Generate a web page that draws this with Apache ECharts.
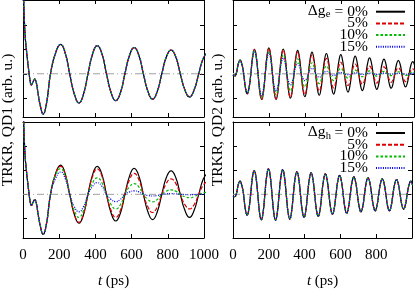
<!DOCTYPE html>
<html><head><meta charset="utf-8">
<script src="https://cdn.jsdelivr.net/npm/echarts@6/dist/echarts.min.js"></script>
<style>html,body{margin:0;padding:0;background:#fff}#c{width:415px;height:290px}</style>
</head><body><div id="c"></div>
<script>
// ---------- data ----------
const seriesNames = ['0%', '5%', '10%', '15%'];
const xTickStep = 200;
const yTicks = [-1, 0, 1, 2];

// QD1 time samples (ps)
const tQD1 = [0,4,11,19,27,34,40,46,55,65,74,83,97,111,130,152,180,208,
  233,258,284,309,334,359,385,410,
  436,461,487,512,538,563,589,614,
  640,665,691,716,741,767,792,818,
  844,869,895,920,945,971,996,1022];
// QD1, 0% (top-left all curves; bottom-left black)
const qd1_0 = [5,3.0,1.65,0.97,0.42,0,-0.33,-0.46,-0.34,-0.22,-0.38,-0.8,-1.35,-1.65,-1.2,0,0.85,1.2,
  0.85,0,-0.84,-1.19,-0.84,0,0.82,1.15,
  0.82,0,-0.78,-1.1,-0.78,0,0.76,1.07,
  0.76,0,-0.74,-1.04,-0.74,0,0.69,0.97,
  0.69,0,-0.67,-0.95,-0.67,0,0.63,0.9];
const qd1_h5 = [5,3.0,1.65,0.97,0.42,0,-0.33,-0.46,-0.34,-0.22,-0.38,-0.8,-1.35,-1.65,-1.2,0,0.84,1.15,
  0.82,0,-0.82,-1.15,-0.82,0,0.75,1.05,
  0.75,0,-0.67,-0.95,-0.67,0,0.61,0.86,
  0.61,0,-0.53,-0.75,-0.53,0,0.45,0.64,
  0.45,0,-0.43,-0.6,-0.43,0,0.38,0.55];
const qd1_h10 = [5,3.0,1.65,0.97,0.42,0,-0.33,-0.46,-0.34,-0.22,-0.38,-0.8,-1.35,-1.65,-1.2,0,0.8,1.06,
  0.75,0,-0.67,-0.95,-0.67,0,0.48,0.68,
  0.48,0,-0.43,-0.6,-0.43,0,0.31,0.44,
  0.31,0,-0.22,-0.31,-0.22,0,0.13,0.18,
  0.13,0,-0.1,-0.14,-0.1,0,0.06,0.08];
const qd1_h15 = [5,3.0,1.65,0.97,0.42,0,-0.33,-0.46,-0.34,-0.22,-0.38,-0.8,-1.35,-1.65,-1.2,0,0.65,0.92,
  0.65,0,-0.51,-0.72,-0.51,0,0.34,0.48,
  0.34,0,-0.21,-0.3,-0.21,0,0.1,0.14,
  0.1,0,-0.05,-0.07,-0.05,0,0.02,0.03,
  0.02,0,-0.01,-0.02,-0.01,0,0.01,0.01];

// QD2 time samples (ps)
const tQD2 = [0,9.2,19.1,29.1,39,48.9,58.9,68.8,
  78.8,88.7,98.6,108.6,118.5,128.4,138.4,148.3,
  158.3,168.2,178.1,188.1,198,207.9,217.9,227.8,
  237.8,247.7,257.6,267.6,277.5,287.4,297.4,307.3,
  317.3,327.2,337.1,347.1,357,366.9,376.9,386.8,
  396.8,406.7,416.6,426.6,436.5,446.4,456.4,466.3,
  476.3,486.2,496.1,506.1,516,525.9,535.9,545.8,
  555.8,565.7,575.6,585.6,595.5,605.4,615.4,625.3,
  635.3,645.2,655.1,665.1,675,684.9,694.9,704.8,
  714.8,724.7,734.6,744.6,754.5,764.4,774.4,784.3,
  794.3,804.2,814.1,824.1,834,843.9,853.9,863.8,
  873.8,883.7,893.6,903.6,913.5,923.4,933.4,943.3,
  953.3,963.2,973.1,983.1,993,1002.9];
const qd2_e0 = [-0.05,-0.09,0.04,0.40,0.56,0.40,0,-0.58,
  -0.82,-0.58,0,0.71,1.0,0.71,0,-0.75,
  -1.05,-0.75,0,0.75,1.06,0.75,0,-0.75,
  -1.05,-0.75,0,0.72,1.01,0.72,0,-0.71,
  -1.0,-0.71,0,0.68,0.96,0.68,0,-0.67,
  -0.94,-0.67,0,0.63,0.89,0.63,0,-0.62,
  -0.88,-0.62,0,0.59,0.83,0.59,0,-0.59,
  -0.83,-0.59,0,0.55,0.78,0.55,0,-0.53,
  -0.75,-0.53,0,0.51,0.72,0.51,0,-0.49,
  -0.69,-0.49,0,0.46,0.65,0.46,0,-0.45,
  -0.64,-0.45,0,0.43,0.6,0.43,0,-0.42,
  -0.59,-0.42,0,0.39,0.55,0.39,0,-0.38,
  -0.54,-0.38,0,0.36,0.5,0.36];
const qd2_e5 = [-0.05,-0.09,0.04,0.40,0.56,0.40,0,-0.58,
  -0.82,-0.58,0,0.71,1.0,0.71,0,-0.75,
  -1.05,-0.75,0,0.75,1.05,0.75,0,-0.73,
  -1.03,-0.73,0,0.70,0.98,0.70,0,-0.68,
  -0.96,-0.68,0,0.64,0.9,0.64,0,-0.6,
  -0.85,-0.6,0,0.55,0.77,0.55,0,-0.5,
  -0.71,-0.5,0,0.45,0.63,0.45,0,-0.41,
  -0.58,-0.41,-0.02,0.33,0.47,0.33,-0.02,-0.34,
  -0.48,-0.34,-0.03,0.28,0.4,0.28,-0.03,-0.31,
  -0.43,-0.31,-0.04,0.22,0.31,0.22,-0.04,-0.27,
  -0.38,-0.27,-0.04,0.2,0.28,0.2,-0.04,-0.25,
  -0.35,-0.25,-0.04,0.17,0.24,0.17,-0.04,-0.23,
  -0.32,-0.23,-0.04,0.14,0.2,0.14];
const qd2_e10 = [-0.05,-0.09,0.04,0.40,0.56,0.40,0,-0.57,
  -0.8,-0.57,0,0.67,0.95,0.67,0,-0.68,
  -0.96,-0.68,0,0.65,0.92,0.65,0,-0.61,
  -0.86,-0.61,0,0.55,0.77,0.55,0,-0.5,
  -0.7,-0.5,0,0.43,0.61,0.43,0,-0.38,
  -0.54,-0.38,0,0.32,0.45,0.32,0,-0.28,
  -0.4,-0.28,0,0.23,0.32,0.23,0,-0.2,
  -0.28,-0.2,0,0.16,0.23,0.16,0,-0.13,
  -0.18,-0.13,0,0.11,0.15,0.11,0,-0.09,
  -0.12,-0.09,0,0.09,0.12,0.09,0,-0.07,
  -0.1,-0.07,0,0.07,0.1,0.07,0,-0.06,
  -0.08,-0.06,0,0.06,0.08,0.06,0,-0.05,
  -0.07,-0.05,0,0.05,0.07,0.05];
const qd2_e15 = [-0.05,-0.09,0.04,0.39,0.55,0.39,0,-0.56,
  -0.79,-0.56,0,0.65,0.92,0.65,0,-0.64,
  -0.9,-0.64,0,0.6,0.85,0.6,0,-0.51,
  -0.72,-0.51,0,0.46,0.65,0.46,0,-0.33,
  -0.46,-0.33,0,0.3,0.42,0.3,0,-0.2,
  -0.28,-0.2,0,0.16,0.22,0.16,0,-0.1,
  -0.14,-0.1,0,0.07,0.1,0.07,0,-0.05,
  -0.07,-0.05,0,0.04,0.05,0.04,0,-0.03,
  -0.04,-0.03,0,0.03,0.04,0.03,0,-0.02,
  -0.03,-0.02,0,0.02,0.03,0.02,0,-0.02,
  -0.03,-0.02,0,0.02,0.03,0.02,0,-0.01,
  -0.02,-0.01,0,0.01,0.02,0.01,0,-0.01,
  -0.02,-0.01,0,0.01,0.02,0.01];
// QD2, Δg_h variation (all curves coincide)
const qd2_h0 = [-0.08,-0.1,0.03,0.38,0.54,0.38,0,-0.61,
  -0.86,-0.61,0,0.70,0.98,0.70,0,-0.75,
  -1.05,-0.75,0,0.75,1.05,0.75,0,-0.75,
  -1.06,-0.75,0,0.72,1.02,0.72,0,-0.72,
  -1.02,-0.72,0,0.66,0.93,0.66,0,-0.67,
  -0.95,-0.67,0,0.62,0.88,0.62,0,-0.65,
  -0.91,-0.65,0,0.6,0.84,0.6,0,-0.58,
  -0.82,-0.58,0,0.55,0.78,0.55,0,-0.55,
  -0.78,-0.55,0,0.51,0.72,0.51,0,-0.51,
  -0.72,-0.51,0,0.48,0.68,0.48,0,-0.48,
  -0.68,-0.48,0,0.45,0.64,0.45,0,-0.48,
  -0.68,-0.48,0,0.43,0.61,0.43,0,-0.43,
  -0.61,-0.43,0,0.38,0.54,0.38];
const zeroLine = [[0, 0], [1000, 0]];

// ---------- chart ----------
const F = 'Liberation Serif';
const colors = ['#000000', '#dd0000', '#00bb00', '#0000ee'];
const dashes = ['solid', [4, 2], [2.5, 2], [1, 1.3]];
const grids = [
  {left: 23, top: 0, width: 181, height: 117},
  {left: 233, top: 0, width: 181, height: 117},
  {left: 23, top: 122, width: 181, height: 117},
  {left: 233, top: 122, width: 181, height: 117}
];
const yRange = [[-1.77, 3.02], [-1.77, 3.02], [-1.8, 2.98], [-1.8, 2.98]];

const xAxes = [], yAxes = [];
for (let g = 0; g < 4; g++) {
  const bottomRow = g >= 2, rightCol = g % 2 === 1;
  const base = {
    type: 'value', gridIndex: g, min: 0, max: 1000, interval: xTickStep,
    axisLine: {show: true, onZero: false, lineStyle: {color: '#000', width: 1}},
    axisTick: {show: true, inside: true, length: 4, lineStyle: {color: '#000'}},
    splitLine: {show: false}
  };
  xAxes[g] = Object.assign({}, base, {
    position: 'bottom',
    axisLabel: {show: bottomRow, color: '#000', fontFamily: F, fontSize: 15, margin: 10,
      formatter: v => (rightCol && v === 1000) ? '' : String(v)},
    name: bottomRow ? '{i|t} (ps)' : '', nameLocation: 'middle', nameGap: 36,
    nameTextStyle: {color: '#000', fontFamily: F, fontSize: 15,
      rich: {i: {fontStyle: 'italic', fontFamily: F, fontSize: 15, color: '#000'}}}
  });
  xAxes[4 + g] = Object.assign({}, base, {position: 'top', axisLabel: {show: false}});
  const yb = {
    type: 'value', gridIndex: g, min: yRange[g][0], max: yRange[g][1],
    axisLine: {show: true, onZero: false, lineStyle: {color: '#000', width: 1}},
    axisTick: {show: true, inside: true, length: 4, customValues: yTicks, lineStyle: {color: '#000'}},
    axisLabel: {show: false}, splitLine: {show: false}
  };
  yAxes[g] = Object.assign({}, yb, {position: 'left'});
  yAxes[4 + g] = Object.assign({}, yb, {position: 'right'});
}

const panelData = [
  {t: tQD1, v: [qd1_0, qd1_0, qd1_0, qd1_0], zero: [7, 3, 1, 3]},
  {t: tQD2, v: [qd2_e0, qd2_e5, qd2_e10, qd2_e15], zero: [4, 3]},
  {t: tQD1, v: [qd1_0, qd1_h5, qd1_h10, qd1_h15], zero: [7, 3, 1, 3]},
  {t: tQD2, v: [qd2_h0, qd2_h0, qd2_h0, qd2_h0], zero: [7, 3, 1, 3]}
];
const series = [];
panelData.forEach((p, g) => {
  series.push({type: 'line', name: 'zero', xAxisIndex: g, yAxisIndex: g, data: zeroLine,
    symbol: 'none', silent: true, z: 1,
    lineStyle: {color: g === 1 ? '#b8b8b8' : '#a0a0a0', width: g === 1 ? 1.5 : 1, type: p.zero}});
  p.v.forEach((vals, i) => {
    series.push({type: 'line', name: seriesNames[i], xAxisIndex: g, yAxisIndex: g,
      data: p.t.map((t, k) => [t, vals[k]]), symbol: 'none', smooth: true, z: 2 + i,
      lineStyle: {color: colors[i], width: 1.2, type: dashes[i]}, itemStyle: {color: colors[i]}});
  });
});

// one legend per row so rows sit at exact heights
const rowStep = 11.7;
function legendRow(name, yc) {
  return {
    data: [name], orient: 'vertical', align: 'right', right: 9, top: yc - 7,
    padding: 0, itemGap: 0, itemWidth: 29, itemHeight: 14, selectedMode: false,
    itemStyle: {opacity: 0},
    formatter: n => (n === '0%' ? '= 0%' : n) + '\u2009',
    textStyle: {color: '#000', fontFamily: F, fontSize: 15.5, lineHeight: 14}
  };
}
const legends = [];
[10.7, 132.0].forEach(y0 => seriesNames.forEach((n, i) => legends.push(legendRow(n, y0 + i * rowStep))));

function deltaLabel(sub, yc) {
  return [
    {type: 'text', x: 325.5, y: yc, style: {text: 'Δg', font: '15.5px "Liberation Serif"', fill: '#000', align: 'right', verticalAlign: 'middle'}},
    {type: 'text', x: 325.8, y: yc + 4, style: {text: sub, font: '10.5px "Liberation Serif"', fill: '#000', align: 'left', verticalAlign: 'middle'}}
  ];
}

const chart = echarts.init(document.getElementById('c'), null, {renderer: 'canvas'});
chart.setOption({
  animation: false,
  backgroundColor: '#fff',
  grid: grids,
  xAxis: xAxes,
  yAxis: yAxes,
  legend: legends,
  graphic: [
    {type: 'text', x: 8, y: 120, rotation: Math.PI / 2,
      style: {text: 'TRKR, QD1 (arb. u.)', font: '15.5px "Liberation Serif"', fill: '#000', align: 'center', verticalAlign: 'middle'}},
    {type: 'text', x: 218, y: 120, rotation: Math.PI / 2,
      style: {text: 'TRKR, QD2 (arb. u.)', font: '15.5px "Liberation Serif"', fill: '#000', align: 'center', verticalAlign: 'middle'}}
  ].concat(deltaLabel('e', 10.7), deltaLabel('h', 132.0)),
  series: series
});
</script></body></html>
